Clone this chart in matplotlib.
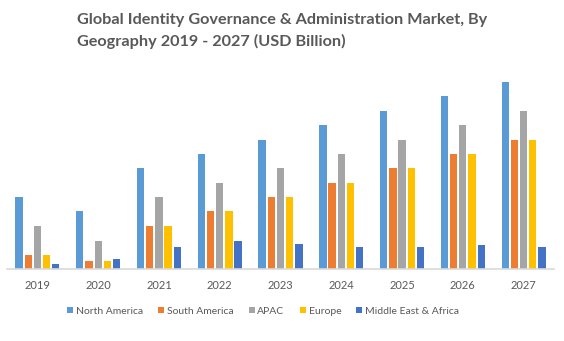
import matplotlib
matplotlib.use("Agg")
import matplotlib.pyplot as plt
import numpy as np

years = ["2019", "2020", "2021", "2022", "2023", "2024", "2025", "2026", "2027"]
north_america = [5.0, 4.0, 7.0, 8.0, 9.0, 10.0, 11.0, 12.0, 13.0]
south_america = [1.0, 0.55, 3.0, 4.0, 5.0, 6.0, 7.0, 8.0, 9.0]
apac = [3.0, 1.95, 5.0, 6.0, 7.0, 8.0, 9.0, 10.0, 11.0]
europe = [1.0, 0.55, 3.0, 4.0, 5.0, 6.0, 7.0, 8.0, 9.0]
middle_east_africa = [0.35, 0.7, 1.5, 1.95, 1.75, 1.5, 1.5, 1.7, 1.5]

series = [
    ("North America", north_america, "#5B9BD5"),
    ("South America", south_america, "#ED7D31"),
    ("APAC", apac, "#A5A5A5"),
    ("Europe", europe, "#FFC000"),
    ("Middle East & Africa", middle_east_africa, "#4472C4"),
]

text_color = "#595959"
plt.rcParams["font.family"] = ["Lato", "DejaVu Sans"]

fig = plt.figure(figsize=(5.64, 3.41), dpi=100)
ax = fig.add_axes([7 / 564, 1 - 269 / 341, 547 / 564, (269 - 70) / 341])

x = np.arange(len(years))
pitch = 0.151
width = 0.12
for i, (name, vals, color) in enumerate(series):
    ax.bar(x + (i - 2) * pitch, vals, width=width, color=color, label=name, zorder=2)

ax.set_xlim(-0.5, len(years) - 0.5)
ax.set_ylim(0, 13.0 * 199 / 187)
ax.set_xticks(x)
ax.set_xticklabels(years, fontsize=8, color=text_color)
ax.tick_params(axis="x", length=0, pad=8)
ax.set_yticks([])
for side in ("top", "right", "left"):
    ax.spines[side].set_visible(False)
ax.spines["bottom"].set_color("#D9D9D9")
ax.spines["bottom"].set_linewidth(1.2)

fig.text(77 / 564, 1 - 31 / 341,
         "Global Identity Governance & Administration Market, By\nGeography 2019 - 2027 (USD Billion)",
         ha="left", va="center", fontsize=11.7, fontweight="bold", color=text_color,
         linespacing=1.65, multialignment="left")

leg = fig.legend(loc="center", bbox_to_anchor=(263 / 564, 1 - 311 / 341), ncol=5, frameon=False,
                 fontsize=7.5, handlelength=0.6, handleheight=0.6, handletextpad=0.25,
                 columnspacing=1.45, labelcolor=text_color)

fig.savefig("out.png", dpi=100, facecolor="white")
